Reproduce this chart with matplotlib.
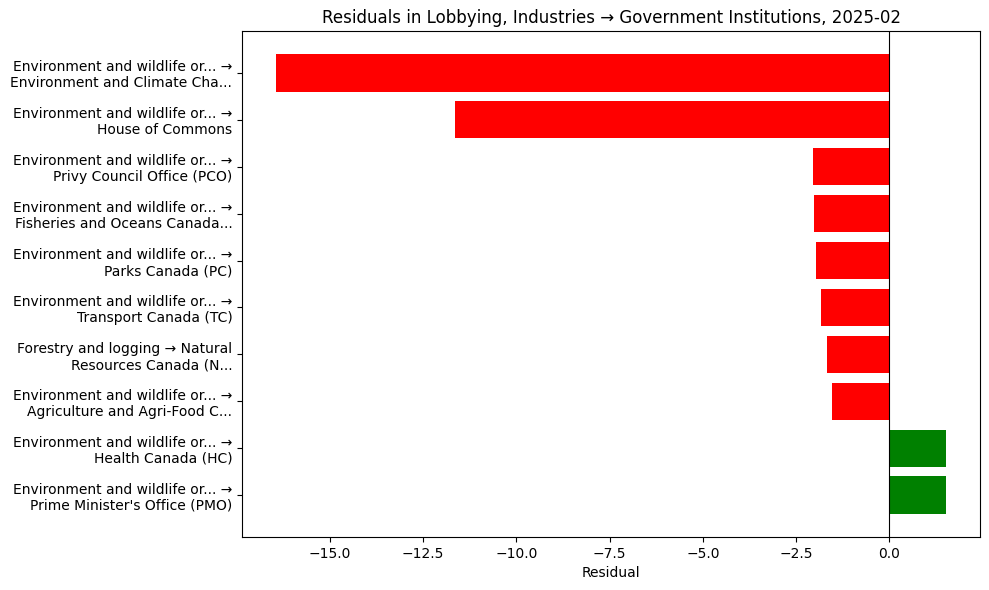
"""Residuals bar chart: lobbying, industries -> government institutions."""

import matplotlib

matplotlib.use("Agg")

import matplotlib.pyplot as plt

labels = [
    "Environment and wildlife or... →\nEnvironment and Climate Cha...",
    "Environment and wildlife or... →\nHouse of Commons",
    "Environment and wildlife or... →\nPrivy Council Office (PCO)",
    "Environment and wildlife or... →\nFisheries and Oceans Canada...",
    "Environment and wildlife or... →\nParks Canada (PC)",
    "Environment and wildlife or... →\nTransport Canada (TC)",
    "Forestry and logging → Natural\nResources Canada (N...",
    "Environment and wildlife or... →\nAgriculture and Agri-Food C...",
    "Environment and wildlife or... →\nHealth Canada (HC)",
    "Environment and wildlife or... →\nPrime Minister's Office (PMO)",
]
residuals = [-16.45, -11.63, -2.04, -2.01, -1.96, -1.82, -1.66, -1.55, 1.53, 1.53]

colors = ["green" if r > 0 else "red" for r in residuals]

fig, ax = plt.subplots(figsize=(9.89, 5.9), dpi=100)
ypos = range(len(labels))
ax.barh(ypos, residuals, color=colors)
ax.set_yticks(list(ypos), labels)
ax.invert_yaxis()
ax.axvline(0, color="black", linewidth=0.8)
ax.set_xlabel("Residual")
ax.set_title("Residuals in Lobbying, Industries → Government Institutions, 2025-02")

# match the reference's plot area
fig.subplots_adjust(left=0.2447, right=0.9909, top=0.9475, bottom=0.0898)
fig.savefig("out.png", dpi=100)
plt.close(fig)
